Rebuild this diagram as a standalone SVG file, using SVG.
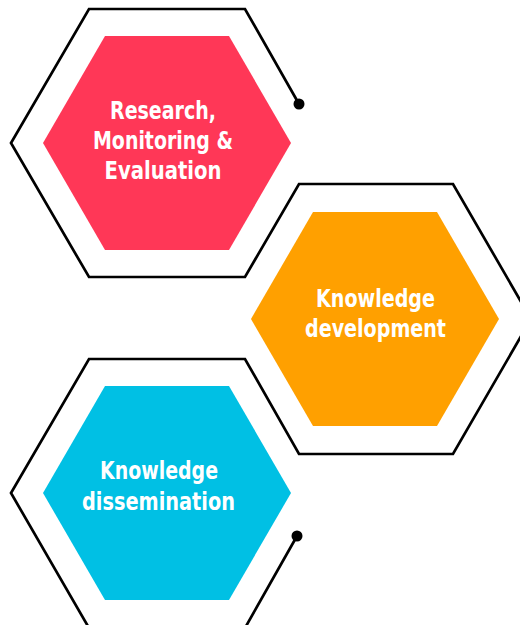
<svg xmlns="http://www.w3.org/2000/svg" width="520" height="625" viewBox="0 0 520 625">
<style>
.hex{stroke:none}
.lbl{font-family:"DejaVu Sans","Liberation Sans",sans-serif;font-weight:bold;font-size:25px;fill:#ffffff;text-anchor:middle}
.line{fill:none;stroke:#000000;stroke-width:2.7;stroke-linejoin:miter}
.dot{fill:#000000}
</style>
<rect width="520" height="625" fill="#ffffff"/>
<g id="connectors">
<path class="line" d="M299,104 L245,9 L89,9 L11,143 L89,277 L245,277 L299,184 L453,184 L531,319 L453,454 L299,454 L245,359 L89,359 L11,493 L89,628 L245,628 L297,536"/>
<circle class="dot" cx="299" cy="104" r="5.5"/>
<circle class="dot" cx="297" cy="536" r="5.5"/>
</g>
<g id="node-research">
<polygon class="hex" fill="#FF3757" points="105,36 229,36 291,143 229,250 105,250 43,143"/>
<text class="lbl" x="163" y="119" textLength="106" lengthAdjust="spacingAndGlyphs">Research,</text>
<text class="lbl" x="163" y="149" textLength="140" lengthAdjust="spacingAndGlyphs">Monitoring &amp;</text>
<text class="lbl" x="163" y="179" textLength="117" lengthAdjust="spacingAndGlyphs">Evaluation</text>
</g>
<g id="node-development">
<polygon class="hex" fill="#FFA000" points="313,212 437,212 499,319 437,426 313,426 251,319"/>
<text class="lbl" x="375.5" y="307" textLength="119" lengthAdjust="spacingAndGlyphs">Knowledge</text>
<text class="lbl" x="375.5" y="337" textLength="141" lengthAdjust="spacingAndGlyphs">development</text>
</g>
<g id="node-dissemination">
<polygon class="hex" fill="#00C0E4" points="105,386 229,386 291,493 229,600 105,600 43,493"/>
<text class="lbl" x="159" y="479" textLength="118" lengthAdjust="spacingAndGlyphs">Knowledge</text>
<text class="lbl" x="158.5" y="510" textLength="153" lengthAdjust="spacingAndGlyphs">dissemination</text>
</g>
</svg>
